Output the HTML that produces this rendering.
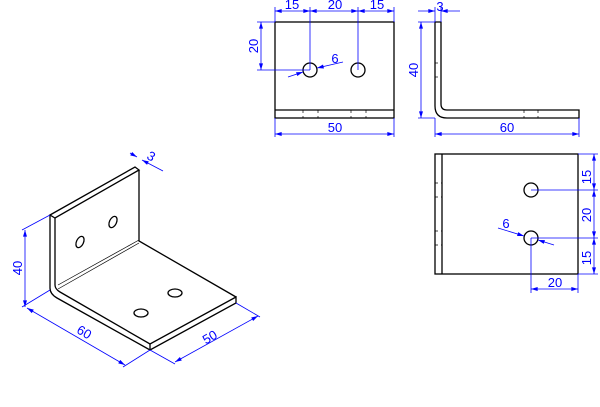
<!DOCTYPE html>
<html><head><style>body{margin:0;background:#fff}svg{display:block}</style></head><body>
<svg width="600" height="407" xmlns="http://www.w3.org/2000/svg" font-family="Liberation Sans, sans-serif">
<defs>
<marker id="a" viewBox="0 0 10 6" refX="10" refY="3" markerWidth="10" markerHeight="5" orient="auto-start-reverse"><path d="M0,0L10,3L0,6z" fill="#00f"/></marker>
</defs>
<g fill="none" stroke="#000" stroke-width="1.3">
<rect x="275" y="22" width="119" height="96"/>
<line x1="275" y1="110" x2="394" y2="110"/>
<circle cx="310" cy="70" r="7"/><circle cx="358" cy="70" r="7"/>
<path d="M435,22H441V104Q441,110 447,110H579V118H447Q435,118 435,106Z"/>
<rect x="435" y="154" width="143" height="120"/>
<line x1="442" y1="154" x2="442" y2="274"/>
<circle cx="531" cy="190" r="7"/><circle cx="531" cy="238" r="7"/>
<path d="M50,215L135,167L139,170L55,218Z"/>
<path d="M50,215V288Q50,294 57,298L150,350L236,303V297L150,344L60,292Q55,289 55,285V218"/>
<path d="M139,170V241L236,297"/>
<line x1="150" y1="344" x2="150" y2="350"/>
<ellipse cx="80" cy="242" rx="3.5" ry="6" transform="rotate(25 80 242)"/>
<ellipse cx="113" cy="222" rx="3.5" ry="6" transform="rotate(25 113 222)"/>
<ellipse cx="141" cy="313" rx="7" ry="4"/>
<ellipse cx="175" cy="293" rx="7" ry="4"/>
</g>
<g stroke="#000" stroke-width="0.7" fill="none">
<line x1="58" y1="289" x2="139" y2="243"/><line x1="58" y1="285" x2="139" y2="240"/>
<g stroke-dasharray="3,3"><line x1="303" y1="110" x2="303" y2="118"/><line x1="318" y1="110" x2="318" y2="118"/><line x1="351" y1="110" x2="351" y2="118"/><line x1="366" y1="110" x2="366" y2="118"/>
<line x1="435" y1="63" x2="441" y2="63"/><line x1="435" y1="77" x2="441" y2="77"/><line x1="524" y1="110" x2="524" y2="118"/><line x1="538" y1="110" x2="538" y2="118"/>
<line x1="435" y1="183" x2="442" y2="183"/><line x1="435" y1="197" x2="442" y2="197"/><line x1="435" y1="231" x2="442" y2="231"/><line x1="435" y1="245" x2="442" y2="245"/></g>
</g>
<g stroke="#00f" stroke-width="0.8" fill="none">
<line x1="275" y1="7" x2="275" y2="22"/><line x1="310" y1="7" x2="310" y2="70"/><line x1="358" y1="7" x2="358" y2="70"/><line x1="394" y1="7" x2="394" y2="22"/>
<line x1="275" y1="11" x2="310" y2="11" marker-start="url(#a)" marker-end="url(#a)"/>
<line x1="310" y1="11" x2="358" y2="11" marker-start="url(#a)" marker-end="url(#a)"/>
<line x1="358" y1="11" x2="394" y2="11" marker-start="url(#a)" marker-end="url(#a)"/>
<line x1="257" y1="22" x2="275" y2="22"/><line x1="257" y1="70" x2="310" y2="70"/>
<line x1="261" y1="22" x2="261" y2="70" marker-start="url(#a)" marker-end="url(#a)"/>
<line x1="288" y1="77" x2="303" y2="72" marker-end="url(#a)"/><line x1="343" y1="62" x2="317" y2="68" marker-end="url(#a)"/>
<line x1="275" y1="118" x2="275" y2="137"/><line x1="394" y1="118" x2="394" y2="137"/>
<line x1="275" y1="134" x2="394" y2="134" marker-start="url(#a)" marker-end="url(#a)"/>
<line x1="418" y1="11" x2="435" y2="11" marker-end="url(#a)"/><line x1="460" y1="11" x2="441" y2="11" marker-end="url(#a)"/>
<line x1="435" y1="7" x2="435" y2="22"/><line x1="441" y1="7" x2="441" y2="22"/>
<line x1="418" y1="22" x2="435" y2="22"/><line x1="418" y1="118" x2="435" y2="118"/>
<line x1="421" y1="22" x2="421" y2="118" marker-start="url(#a)" marker-end="url(#a)"/>
<line x1="435" y1="118" x2="435" y2="137"/><line x1="579" y1="118" x2="579" y2="137"/>
<line x1="435" y1="134" x2="579" y2="134" marker-start="url(#a)" marker-end="url(#a)"/>
<line x1="578" y1="154" x2="598" y2="154"/><line x1="531" y1="190" x2="598" y2="190"/><line x1="531" y1="238" x2="598" y2="238"/><line x1="578" y1="274" x2="598" y2="274"/>
<line x1="594" y1="154" x2="594" y2="190" marker-start="url(#a)" marker-end="url(#a)"/>
<line x1="594" y1="190" x2="594" y2="238" marker-start="url(#a)" marker-end="url(#a)"/>
<line x1="594" y1="238" x2="594" y2="274" marker-start="url(#a)" marker-end="url(#a)"/>
<line x1="531" y1="238" x2="531" y2="293"/><line x1="578" y1="274" x2="578" y2="293"/>
<line x1="531" y1="289" x2="578" y2="289" marker-start="url(#a)" marker-end="url(#a)"/>
<line x1="498" y1="228" x2="524" y2="236" marker-end="url(#a)"/><line x1="554" y1="245" x2="538" y2="240" marker-end="url(#a)"/>
<line x1="50" y1="215" x2="22" y2="230"/><line x1="50" y1="290" x2="22" y2="307"/>
<line x1="25" y1="230" x2="25" y2="307" marker-start="url(#a)" marker-end="url(#a)"/>
<line x1="27" y1="308" x2="125" y2="365" marker-start="url(#a)" marker-end="url(#a)"/>
<line x1="150" y1="350" x2="123" y2="367"/>
<line x1="175" y1="362" x2="258" y2="316" marker-start="url(#a)" marker-end="url(#a)"/>
<line x1="150" y1="350" x2="175" y2="364"/><line x1="236" y1="303" x2="260" y2="317"/>
<line x1="130" y1="153" x2="137" y2="157" marker-end="url(#a)"/><line x1="163" y1="171" x2="142" y2="160" marker-end="url(#a)"/>
</g>
<g fill="#00f" font-size="13" text-anchor="middle">
<text x="292" y="9">15</text><text x="335" y="9">20</text><text x="377" y="9">15</text>
<text x="335" y="132">50</text><text x="335" y="63">6</text>
<text x="440" y="11">3</text><text x="507" y="132">60</text>
<text x="555" y="287">20</text><text x="506" y="228">6</text>
<text transform="translate(258,46) rotate(-90)">20</text>
<text transform="translate(418,70) rotate(-90)">40</text>
<text transform="translate(591,177) rotate(-90)">15</text>
<text transform="translate(591,215) rotate(-90)">20</text>
<text transform="translate(591,258) rotate(-90)">15</text>
<text transform="translate(22,268) rotate(-90)">40</text>
<text transform="translate(82,336) rotate(30)">60</text>
<text transform="translate(212,341) rotate(-30)">50</text>
<text transform="translate(149,160) rotate(30)">3</text>
</g>
</svg>
</body></html>
